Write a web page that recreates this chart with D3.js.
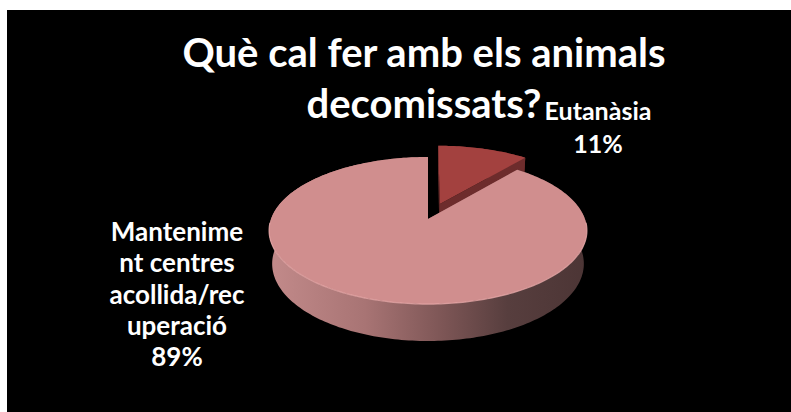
<!DOCTYPE html>
<html>
<head>
<meta charset="utf-8">
<script src="https://cdn.jsdelivr.net/npm/d3@7"></script>
<style>
  body { margin: 0; background: #fff; }
  svg { display: block; }
  text { font-family: Lato, "Open Sans", sans-serif; font-weight: bold; fill: #fff; }
</style>
</head>
<body>
<div id="chart"></div>
<script>
// chart data
var categories = ["Eutanàsia", "Manteniment centres acollida/recuperació"];
var values = [11, 89];
var labelLines = [["Eutanàsia", "11%"], ["Mantenime", "nt centres", "acollida/rec", "uperació", "89%"]];
var titleLines = ["Què cal fer amb els animals", "decomissats?"];
var exploded = [0.23, 0];

var W = 791, H = 412;

var svg = d3.select("#chart").append("svg")
  .attr("width", W)
  .attr("height", H);

// black plot area
svg.append("rect")
  .attr("x", 7).attr("y", 10)
  .attr("width", W - 7).attr("height", H - 10)
  .attr("fill", "#000");

// 3d pie projection (perspective, camera tilted)
var cx = 428, cy = 219;
var K = 890, D = 5.67, sa = 0.457, ca = 0.889, depth = 0.24;

function project(X, Y, Z) {
  var v = Y * sa + Z * ca;
  var w = D + Y * ca - Z * sa;
  return [cx + K * X / w, cy - K * v / w];
}

var pie = d3.pie().sort(null).value(function(d) { return d; });
var arcs = pie(values);

var defs = svg.append("defs");
var grad = defs.append("linearGradient")
  .attr("id", "sideGrad")
  .attr("gradientUnits", "userSpaceOnUse")
  .attr("x1", 270).attr("x2", 587).attr("y1", 0).attr("y2", 0);
grad.append("stop").attr("offset", 0).attr("stop-color", "#c28a8a");
grad.append("stop").attr("offset", 0.3).attr("stop-color", "#a87474");
grad.append("stop").attr("offset", 0.55).attr("stop-color", "#7c5555");
grad.append("stop").attr("offset", 0.75).attr("stop-color", "#573e3e");
grad.append("stop").attr("offset", 1).attr("stop-color", "#4c3535");

var topColors = ["#a3413f", "#d08e8e"];
var sideColors = ["#6d2c2c", "url(#sideGrad)"];
var radialColors = ["#6d2c2c", "#8f5f5f"];

var line = d3.line();

function rimPoints(a0, a1, ox, oy, z) {
  var n = Math.max(2, Math.ceil((a1 - a0) / 0.02));
  var pts = [];
  for (var i = 0; i <= n; i++) {
    var a = a0 + (a1 - a0) * i / n;
    pts.push(project(ox + Math.sin(a), oy + Math.cos(a), z));
  }
  return pts;
}

// draw back slice first (the exploded one sits behind)
var order = [0, 1];
order.forEach(function(i) {
  var d = arcs[i];
  var mid = (d.startAngle + d.endAngle) / 2;
  var ox = exploded[i] * Math.sin(mid), oy = exploded[i] * Math.cos(mid);
  var g = svg.append("g").attr("class", "slice");

  // radial faces
  [d.startAngle, d.endAngle].forEach(function(a) {
    var p = [
      project(ox, oy, 0),
      project(ox + Math.sin(a), oy + Math.cos(a), 0),
      project(ox + Math.sin(a), oy + Math.cos(a), -depth),
      project(ox, oy, -depth)
    ];
    g.append("path").attr("d", line(p) + "Z").attr("fill", radialColors[i]);
  });

  // outer side
  var topRim = rimPoints(d.startAngle, d.endAngle, ox, oy, 0);
  var botRim = rimPoints(d.startAngle, d.endAngle, ox, oy, -depth).reverse();
  g.append("path").attr("d", line(topRim.concat(botRim)) + "Z").attr("fill", sideColors[i]);

  // top face
  var face = [project(ox, oy, 0)].concat(topRim);
  g.append("path").attr("d", line(face) + "Z").attr("fill", topColors[i]);

  // soft highlight on the front rim
  if (i === 1) {
    var front = rimPoints(Math.PI / 2 + 0.05, 3 * Math.PI / 2 - 0.05, ox, oy, 0);
    g.append("path").attr("d", line(front))
      .attr("fill", "none").attr("stroke", "#e7a9a9").attr("stroke-width", 1.2).attr("opacity", 0.8);
  }
});

// title
svg.append("text")
  .attr("text-anchor", "middle")
  .attr("font-size", 40)
  .selectAll("tspan").data(titleLines).enter().append("tspan")
  .attr("x", 424)
  .attr("y", function(d, i) { return 67 + i * 51; })
  .text(function(d) { return d; });

// data labels
var labelPos = [[598, 120, 33], [177, 241, 31.3]];
var labelSize = [25, 26];
labelLines.forEach(function(lines, i) {
  svg.append("text")
    .attr("text-anchor", "middle")
    .attr("font-size", labelSize[i])
    .selectAll("tspan").data(lines).enter().append("tspan")
    .attr("x", labelPos[i][0])
    .attr("y", function(d, j) { return labelPos[i][1] + j * labelPos[i][2]; })
    .text(function(d) { return d; });
});
</script>
</body>
</html>
